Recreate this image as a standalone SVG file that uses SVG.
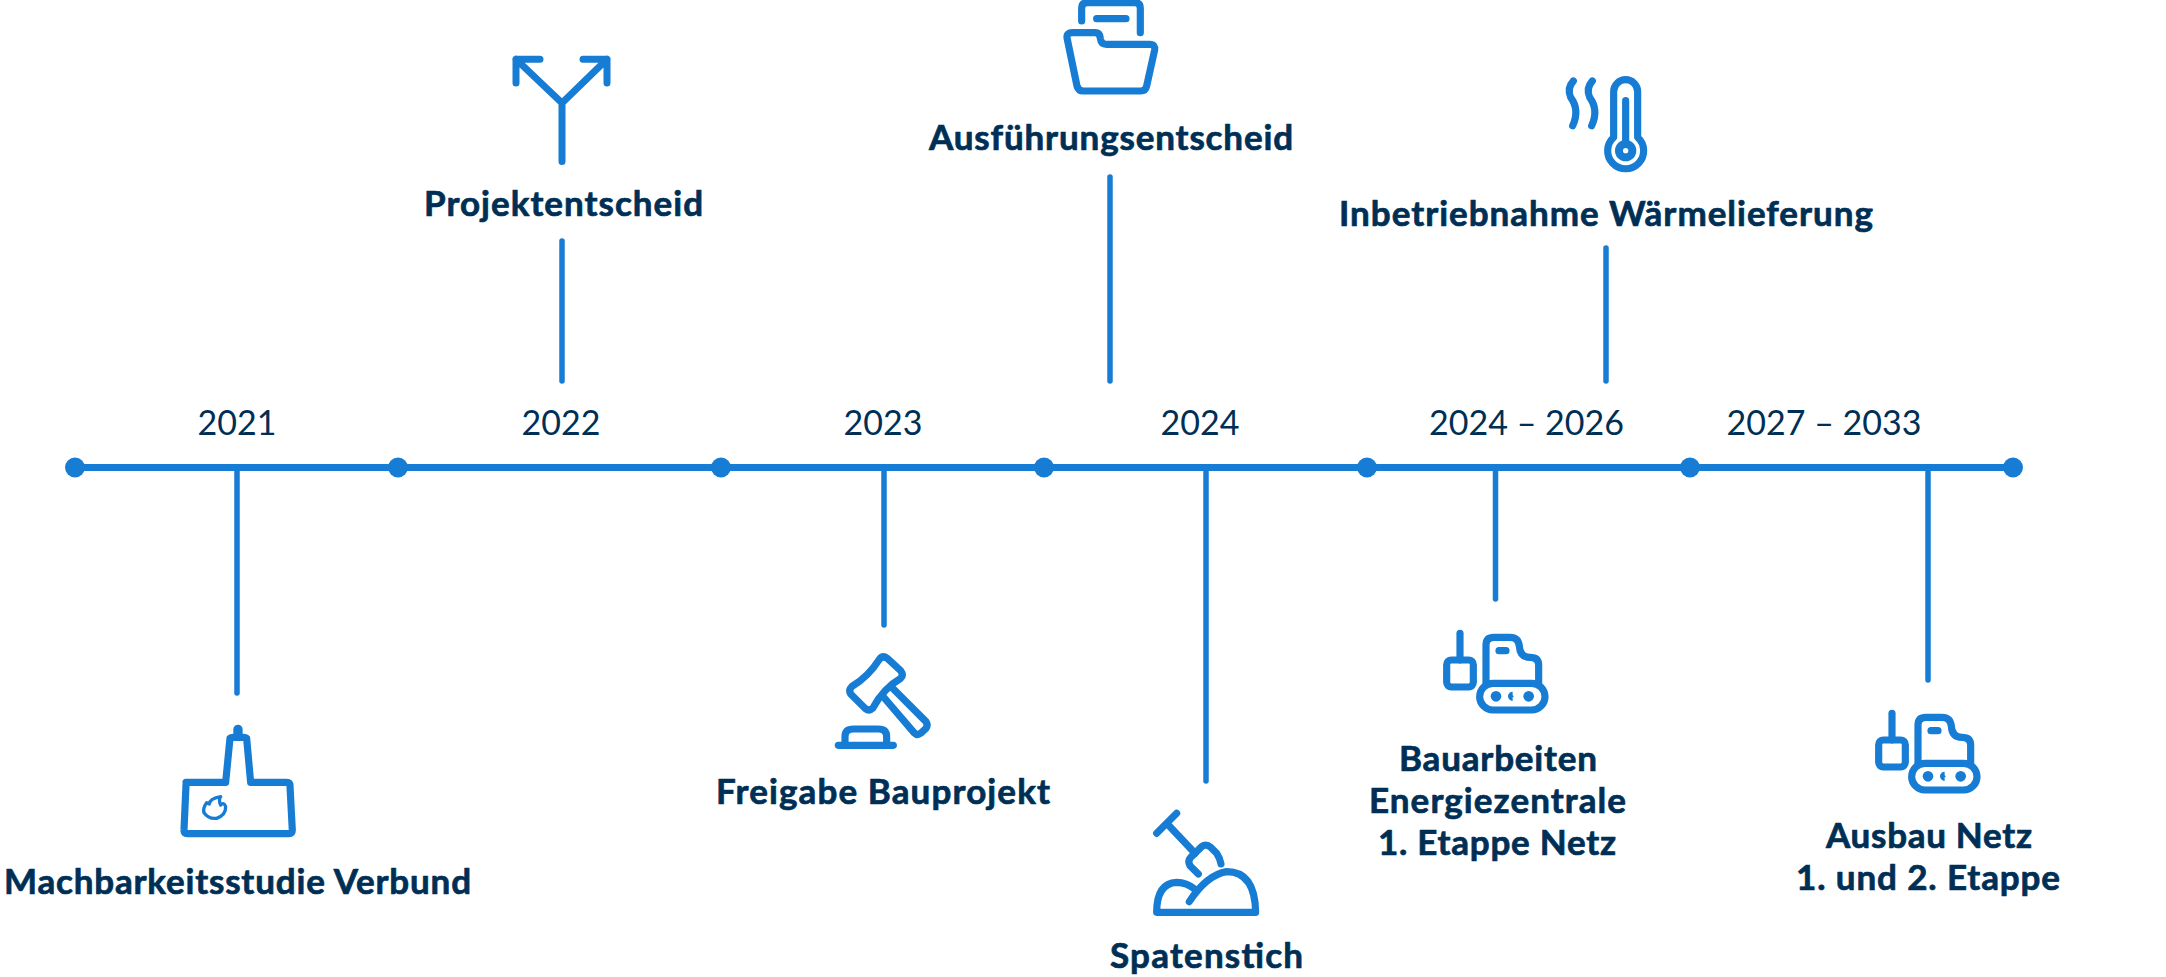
<svg xmlns="http://www.w3.org/2000/svg" width="2166" height="977" viewBox="0 0 2166 977">
<style>
.t{font-family:"Lato","Liberation Sans",sans-serif;font-weight:700;font-size:35px;fill:#002f56;stroke:#002f56;stroke-width:.7;stroke-linejoin:round}
.y{font-family:"Lato","Liberation Sans",sans-serif;font-weight:400;font-size:34px;fill:#002f56;text-anchor:middle}
.l{stroke:#177cd4;stroke-width:5.500;fill:none;stroke-linecap:round}
.i{stroke:#177cd4;stroke-width:21.500;fill:none;stroke-linecap:round;stroke-linejoin:round}
.d{fill:#177cd4}
</style>
<defs>
<g id="dozer">
<path class="i" d="M180 70V150"/>
<rect class="i" x="140" y="150" width="80" height="81" rx="14"/>
<path class="i" d="M258 218V105Q258 82 282 82H330Q355 82 358 108Q360 142 390 142Q416 142 416 165V218"/>
<rect class="i" x="239" y="220" width="196" height="80" rx="40"/>
<path class="i" d="M297 122H318"/>
<circle class="d" cx="288" cy="259" r="16"/>
<path class="d" d="M338 245A14 14 0 0 0 338 273V262L342 259L338 256Z"/>
<circle class="d" cx="386" cy="259" r="16"/>
</g>
</defs>
<g id="connectors">
<path class="l" style="stroke-width:7" d="M75 467.500H2013"/>
<path class="l" d="M237 467V693M884 467V625M1206 467V781M1495.500 467V599M1928 467V680M562 241V381M1110 177V381M1606 248V381"/>
</g>
<g id="dots">
<circle class="d" cx="75" cy="467.500" r="10"/>
<circle class="d" cx="398" cy="467.500" r="10"/>
<circle class="d" cx="721" cy="467.500" r="10"/>
<circle class="d" cx="1044" cy="467.500" r="10"/>
<circle class="d" cx="1367" cy="467.500" r="10"/>
<circle class="d" cx="1690" cy="467.500" r="10"/>
<circle class="d" cx="2013" cy="467.500" r="10"/>
</g>
<g id="years">
<text class="y" x="237" y="435">2021</text>
<text class="y" x="561" y="435">2022</text>
<text class="y" x="883" y="435">2023</text>
<text class="y" x="1200" y="435">2024</text>
<text class="y" x="1526.500" y="435">2024 – 2026</text>
<text class="y" x="1824" y="435">2027 – 2033</text>
</g>
<g id="node-machbarkeit">
<g transform="translate(0 680) scale(.3333)">
<path class="i" d="M558 307H677L690 175Q692 172 700 172H730Q738 172 740 175L752 307H860Q870 307 870 317L877 450Q877 461 867 461H562Q551 461 552 450L558 317Q558 307 568 307Z"/>
<path class="i" style="stroke-width:28" d="M714 148V165"/>
<path class="i" style="stroke-width:10" d="M662 350Q630 355 628 372Q620 368 620 368Q608 385 612 398Q625 418 650 415Q678 405 677 380Q672 365 662 375Q655 360 662 350Z"/>
</g>
<text class="t" x="4" y="893.500" textLength="467">Machbarkeitsstudie Verbund</text>
</g>
<g id="node-projektentscheid">
<path class="i" style="stroke-width:7" d="M562 161.500V103L516 59.300M516 83V59.300H540M562 103L607 59.300M583 59.300H607V83"/>
<text class="t" x="424" y="215.500" textLength="279">Projektentscheid</text>
</g>
<g id="node-ausfuehrung">
<g transform="translate(920 0) scale(.3333)">
<path class="i" d="M485 63V25Q485 8 502 8H645Q661 8 661 25V98"/>
<path class="i" d="M530 56H618"/>
<path class="i" d="M441 113Q440 98 457 98H525Q540 98 541 115Q543 133 560 133H690Q706 133 704 150L680 258Q677 273 662 273H490Q475 273 471 258Z"/>
</g>
<text class="t" x="929" y="150" textLength="364">Ausführungsentscheid</text>
</g>
<g id="node-inbetriebnahme">
<g transform="translate(1500 60) scale(.3333)">
<path class="i" d="M341 232V95A36 36 0 0 1 413 95V232A54 54 0 1 1 341 232Z"/>
<path class="i" d="M377 122V250"/>
<circle cx="377" cy="272" r="20" fill="none" stroke="#177cd4" stroke-width="24"/>
<path class="i" d="M220 63Q200 85 212 112Q240 150 218 197"/>
<path class="i" d="M277 63Q257 85 269 112Q297 150 275 197"/>
</g>
<text class="t" x="1339" y="226" textLength="534">Inbetriebnahme Wärmelieferung</text>
</g>
<g id="node-freigabe">
<g transform="translate(800 630) scale(.3333)">
<path class="i" d="M238 88Q205 140 155 170Q145 180 152 192L195 235Q208 245 218 235Q250 175 302 145Q312 135 302 122L262 85Q248 75 238 88Z"/>
<path class="i" d="M278 175L378 275Q385 285 378 295L362 310Q352 318 342 308L248 198"/>
<path class="i" d="M135 340V320Q135 297 160 297H235Q260 297 260 320V340"/>
<path class="i" d="M115 346H280"/>
</g>
<text class="t" x="716" y="803.500" textLength="334">Freigabe Bauprojekt</text>
</g>
<g id="node-spatenstich">
<g transform="translate(1100 790) scale(.3333)">
<path class="i" d="M170 130L230 70M200 100L285 190"/>
<path class="i" d="M295 252L270 227Q262 213 272 202L305 170Q318 160 332 172L350 190Q360 205 363 222"/>
<path class="i" d="M268 335Q320 255 380 245Q465 245 467 367H170Q170 280 230 277Q260 277 285 298"/>
</g>
<text class="t" x="1110" y="967.500" textLength="193">Spatenstich</text>
</g>
<g id="node-bauarbeiten">
<use href="#dozer" transform="translate(1400 610) scale(.3333)"/>
<text class="t" x="1399" y="770.500" textLength="198">Bauarbeiten</text>
<text class="t" x="1369" y="813" textLength="257">Energiezentrale</text>
<text class="t" x="1378" y="854.500" textLength="238">1. Etappe Netz</text>
</g>
<g id="node-ausbau">
<use href="#dozer" transform="translate(1832 690) scale(.3333)"/>
<text class="t" x="1826" y="847.500" textLength="206">Ausbau Netz</text>
<text class="t" x="1796" y="889.500" textLength="264">1. und 2. Etappe</text>
</g>
</svg>
